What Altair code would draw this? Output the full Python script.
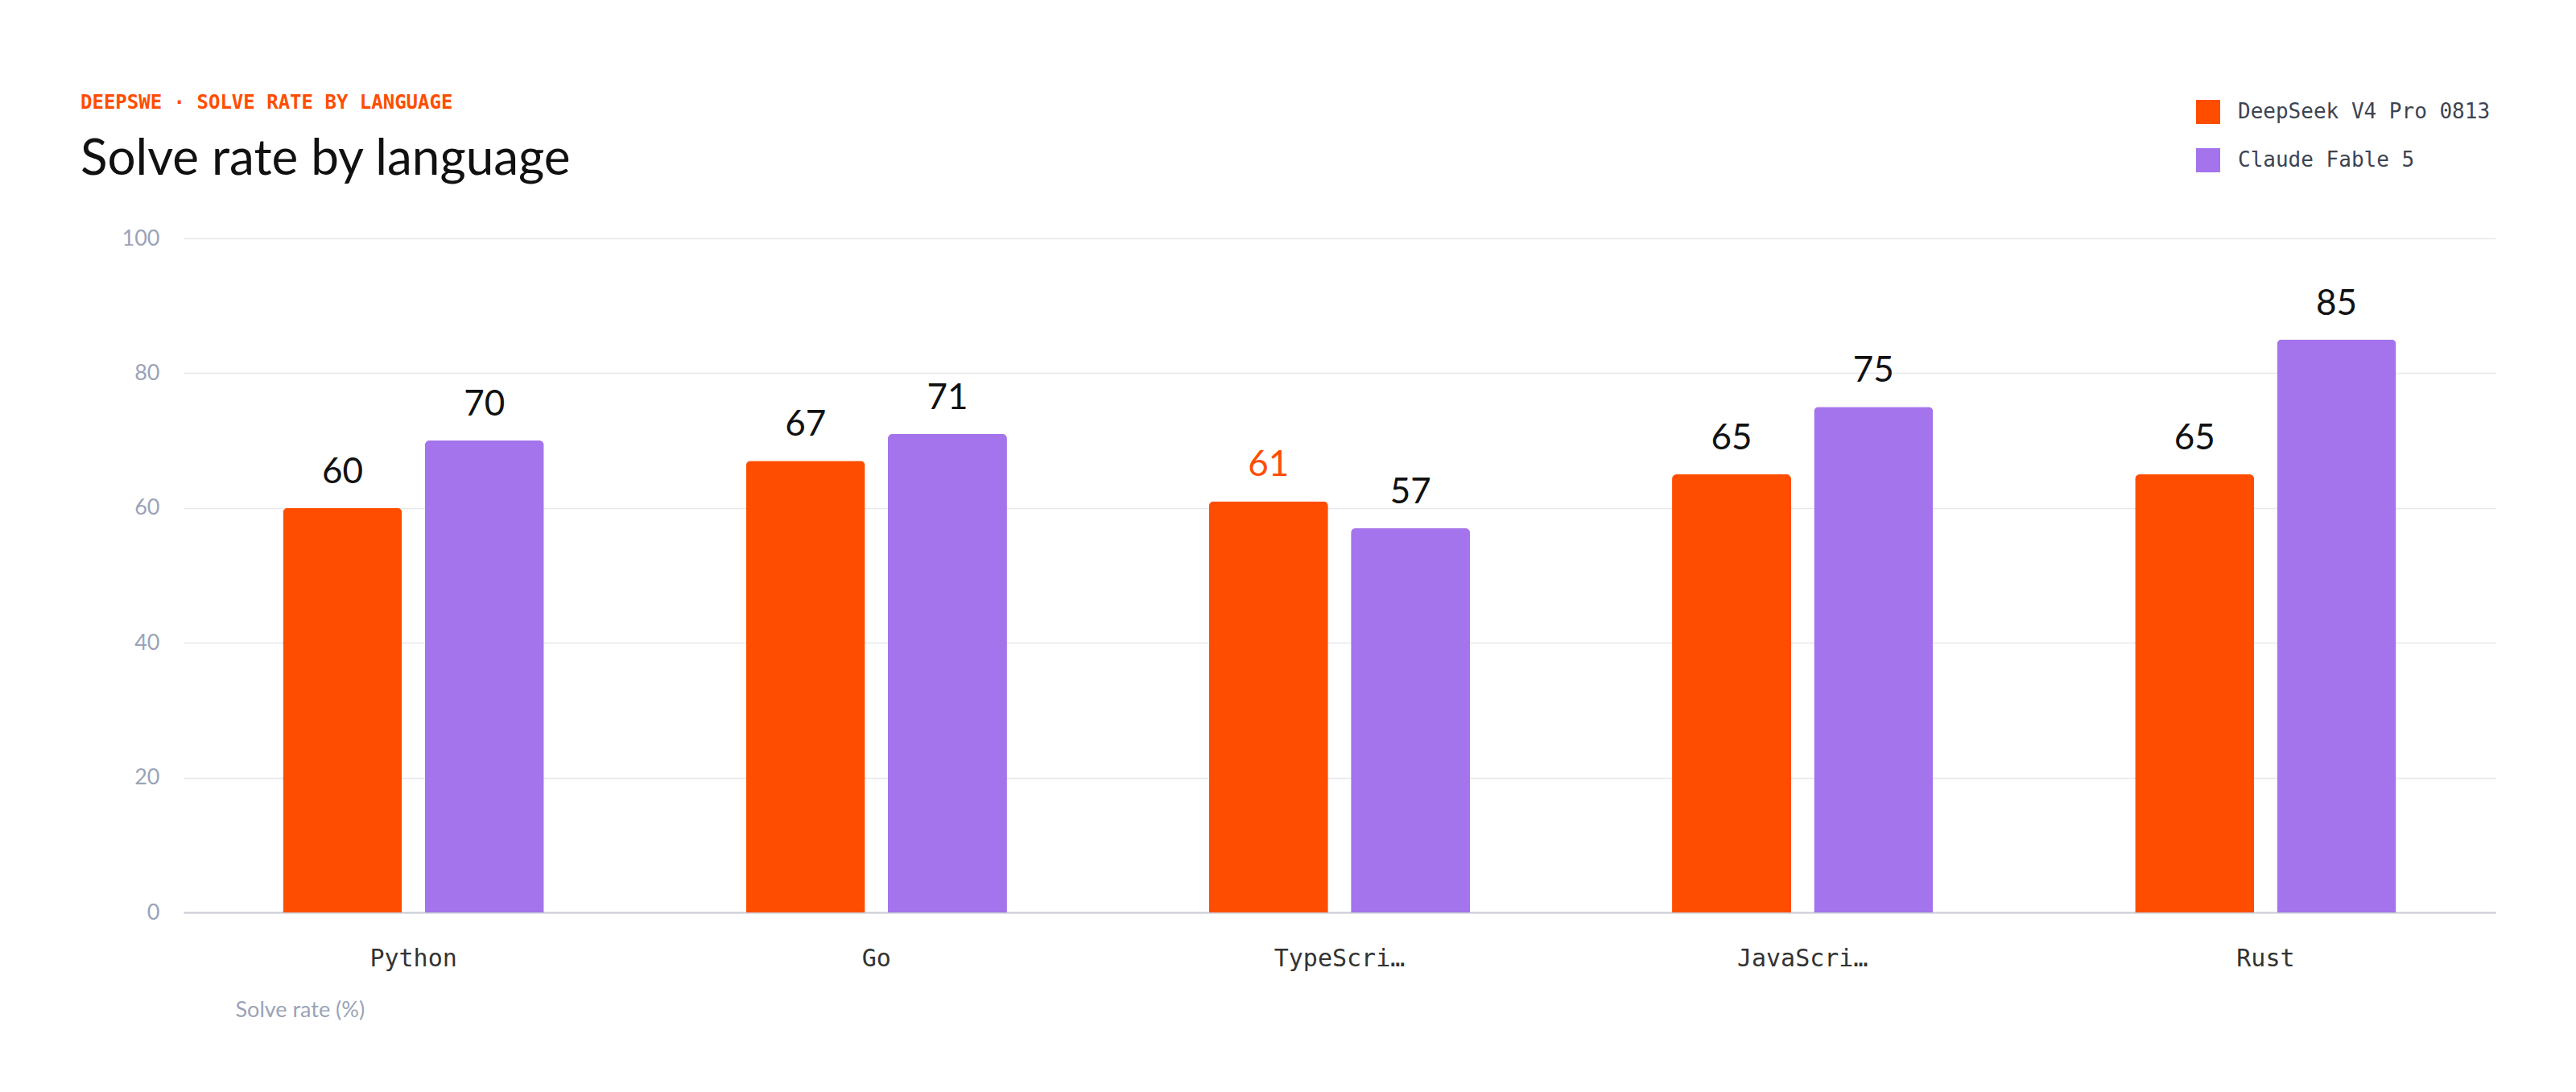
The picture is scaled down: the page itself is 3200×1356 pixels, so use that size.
import pandas as pd
import altair as alt

languages = ["Python", "Go", "TypeScript", "JavaScript", "Rust"]
models = ["DeepSeek V4 Pro 0813", "Claude Fable 5"]
deepseek = [60, 67, 61, 65, 65]
claude = [70, 71, 57, 75, 85]
highlight = [False, False, True, False, False]

rows = []
for i, lang in enumerate(languages):
    rows.append({"lang": lang, "model": models[0], "rate": deepseek[i], "hl": highlight[i]})
    rows.append({"lang": lang, "model": models[1], "rate": claude[i], "hl": False})
df = pd.DataFrame(rows)

mono = "DejaVu Sans Mono"
sans = "Lato"

base = alt.Chart(df).encode(
    x=alt.X("lang:N", sort=languages,
            scale=alt.Scale(paddingInner=0.387, paddingOuter=0.19),
            axis=alt.Axis(title="Solve rate (%)", labelAngle=0, labelFont=mono,
                          labelFontSize=30, labelColor="#333333", labelPadding=42,
                          ticks=False, domainColor="#c9ccd4", domainWidth=2,
                          titleFont=sans, titleFontSize=27, titleFontWeight="normal",
                          titleColor="#9aa3b8", titleAnchor="start", titleAlign="left",
                          titleX=64, titleY=108)),
    xOffset=alt.XOffset("model:N", sort=models),
    y=alt.Y("rate:Q", scale=alt.Scale(domain=[0, 100]),
            axis=alt.Axis(title=None, values=[0, 20, 40, 60, 80, 100], labelFont=sans,
                          labelFontSize=27, labelColor="#9aa3b8", labelPadding=30,
                          ticks=False, domain=False, gridColor="#e6e8ec", gridWidth=1.5)),
)

bars = base.mark_bar(size=148, cornerRadiusTopLeft=6, cornerRadiusTopRight=6).encode(
    color=alt.Color("model:N", sort=models,
                    scale=alt.Scale(domain=models, range=["#ff4d00", "#a374ec"]),
                    legend=alt.Legend(title=None, orient="none", legendX=2500, legendY=-172,
                                      symbolType="square", symbolSize=900, labelFont=mono,
                                      labelFontSize=26, labelColor="#3d4452", rowPadding=30,
                                      symbolStrokeWidth=0, labelOffset=22, labelLimit=0))
)

labels = base.mark_text(dy=-22, baseline="bottom", font=sans, fontSize=44).encode(
    text=alt.Text("rate:Q"),
    color=alt.condition("datum.hl", alt.value("#ff4d00"), alt.value("#111111")),
)

chart = (bars + labels).properties(
    width=2872, height=837,
    autosize=alt.AutoSizeParams(type="none"),
    padding={"left": 220, "top": 288, "right": 90, "bottom": 215},
    title=alt.Title(text="DEEPSWE · SOLVE RATE BY LANGUAGE", subtitle="Solve rate by language",
                    anchor="start", frame="group", dx=-128, offset=-105,
                    font=mono, fontSize=24, fontWeight="bold", color="#ff4d00",
                    subtitleFont=sans, subtitleFontSize=62, subtitleColor="#111111",
                    subtitlePadding=28),
).configure(background="white").configure_view(strokeWidth=0)

chart.save("out.html", embed_options={"renderer": "svg", "actions": False})
